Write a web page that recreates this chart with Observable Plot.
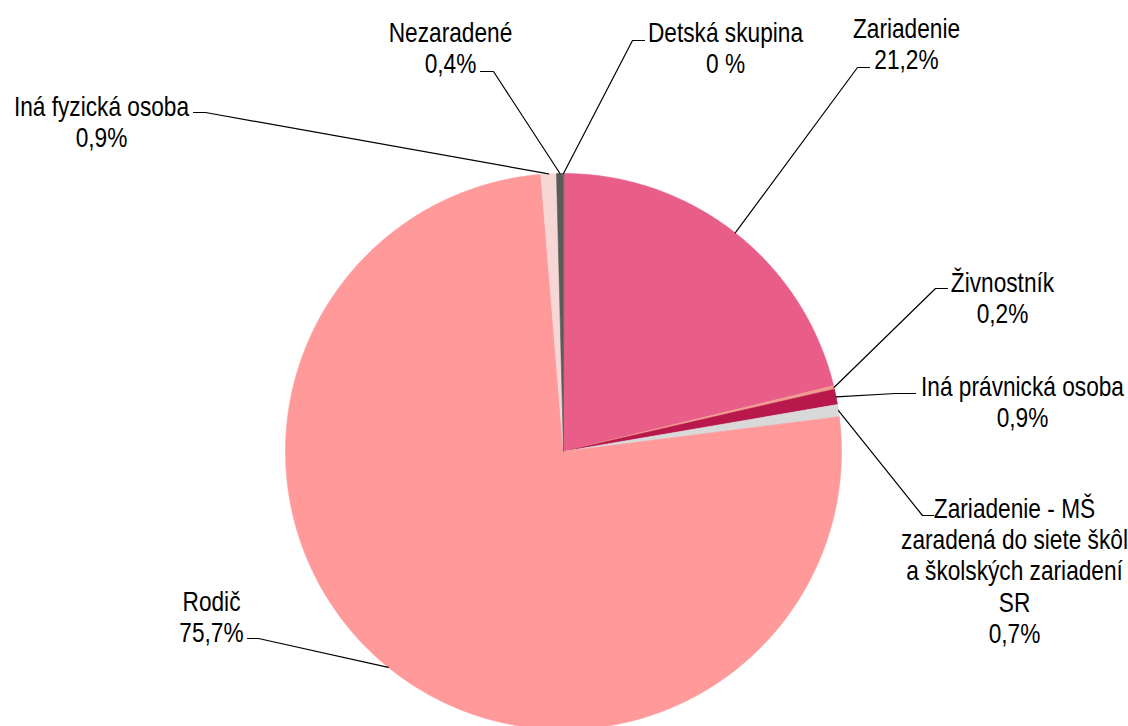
<!DOCTYPE html>
<html>
<head>
<meta charset="utf-8">
<script src="https://cdn.jsdelivr.net/npm/d3@7"></script>
<script src="https://cdn.jsdelivr.net/npm/@observablehq/plot@0.6"></script>
<style>
  html, body { margin: 0; padding: 0; background: #fff; }
  #chart { width: 1128px; height: 726px; overflow: hidden; }
</style>
</head>
<body>
<div id="chart"></div>
<script>
// ---- data ----
const categories = [
  "Zariadenie",
  "Živnostník",
  "Iná právnická osoba",
  "Zariadenie - MŠ zaradená do siete škôl a školských zariadení SR",
  "Rodič",
  "Iná fyzická osoba",
  "Nezaradené",
  "Detská skupina"
];
const shares = [21.2, 0.2, 0.9, 0.7, 75.7, 0.9, 0.4, 0];
const labelNames = [
  "Zariadenie",
  "Živnostník",
  "Iná právnická osoba",
  "Zariadenie - MŠ\nzaradená do siete škôl\na školských zariadení\nSR",
  "Rodič",
  "Iná fyzická osoba",
  "Nezaradené",
  "Detská skupina"
];
const valueLabels = ["21,2%", "0,2%", "0,9%", "0,7%", "75,7%", "0,9%", "0,4%", "0 %"];
const sliceColors = ["#E85E88", "#F09C8E", "#B8184C", "#D9D9D9", "#FF999A", "#F7D6D6", "#5A5A5A", "#333333"];

// ---- layout (pixel geometry, not data) ----
const pie = {cx: 563, cy: 451, r: 278};
// label block: centre x, cap-top y of first line; leader: elbow then end point
const labelLayout = [
  {tx: 906,  ty: 15,  leader: [[857, 67], [869, 67]]},
  {tx: 1002, ty: 269, leader: [[935, 288], [947, 288]]},
  {tx: 1022, ty: 373, leader: [[895, 393], [915, 393]]},
  {tx: 1014, ty: 495, leader: [[922, 515], [933, 515]]},
  {tx: 211,  ty: 588, leader: [[258, 638], [247, 638]]},
  {tx: 101,  ty: 93,  leader: [[205, 112], [193, 112]]},
  {tx: 450,  ty: 19,  leader: [[493, 71], [480, 71]]},
  {tx: 725,  ty: 19,  leader: [[632, 40], [644, 40]]}
];
const FONT = "'Liberation Sans', Arial, sans-serif";
const NARROW = 0.81; // horizontal squeeze to mimic a narrow face

// ---- build tables from the arrays ----
const arcs = d3.pie().sort(null).value(d => d)(shares);
const pt = (a, rr) => ({x: pie.cx + rr * Math.sin(a), y: pie.cy - rr * Math.cos(a)});

const slicePts = [];
arcs.forEach((a, i) => {
  if (shares[i] <= 0) return;
  const name = categories[i];
  slicePts.push({name, ...pt(0, 0)});
  const n = Math.max(2, Math.ceil((a.endAngle - a.startAngle) / (Math.PI / 360)));
  for (let k = 0; k <= n; k++) {
    const ang = a.startAngle + (a.endAngle - a.startAngle) * k / n;
    slicePts.push({name, ...pt(ang, pie.r)});
  }
});

const leaderPts = [];
arcs.forEach((a, i) => {
  const mid = (a.startAngle + a.endAngle) / 2;
  const name = categories[i];
  leaderPts.push({name, ...pt(mid, pie.r)});
  labelLayout[i].leader.forEach(([x, y]) => leaderPts.push({name, x, y}));
});

const labels = categories.map((c, i) => ({
  name: c,
  text: labelNames[i] + "\n" + valueLabels[i],
  x: labelLayout[i].tx,
  y: labelLayout[i].ty
}));

const chart = Plot.plot({
  width: 1128,
  height: 726,
  margin: 0,
  x: {type: "identity", axis: null},
  y: {type: "identity", axis: null},
  color: {domain: categories, range: sliceColors},
  style: {background: "#fff", fontFamily: FONT},
  marks: [
    Plot.line(slicePts, {x: "x", y: "y", z: "name", fill: "name", stroke: "name", strokeWidth: 0.6, curve: "linear-closed"}),
    Plot.line(leaderPts, {x: "x", y: "y", z: "name", stroke: "#000", strokeWidth: 1.2}),
    Plot.text(labels, {x: "x", y: "y", text: "text", textAnchor: "middle", lineAnchor: "top",
      fontSize: 28, lineHeight: 1.12, fill: "#000", fontFamily: FONT})
  ]
});
// squeeze label glyphs horizontally about their anchor
d3.select(chart).selectAll('g[aria-label="text"] text').each(function() {
  const t = this.getAttribute("transform") || "";
  this.setAttribute("transform", t + ` scale(${NARROW},1)`);
});
document.getElementById("chart").appendChild(chart);
</script>
</body>
</html>
